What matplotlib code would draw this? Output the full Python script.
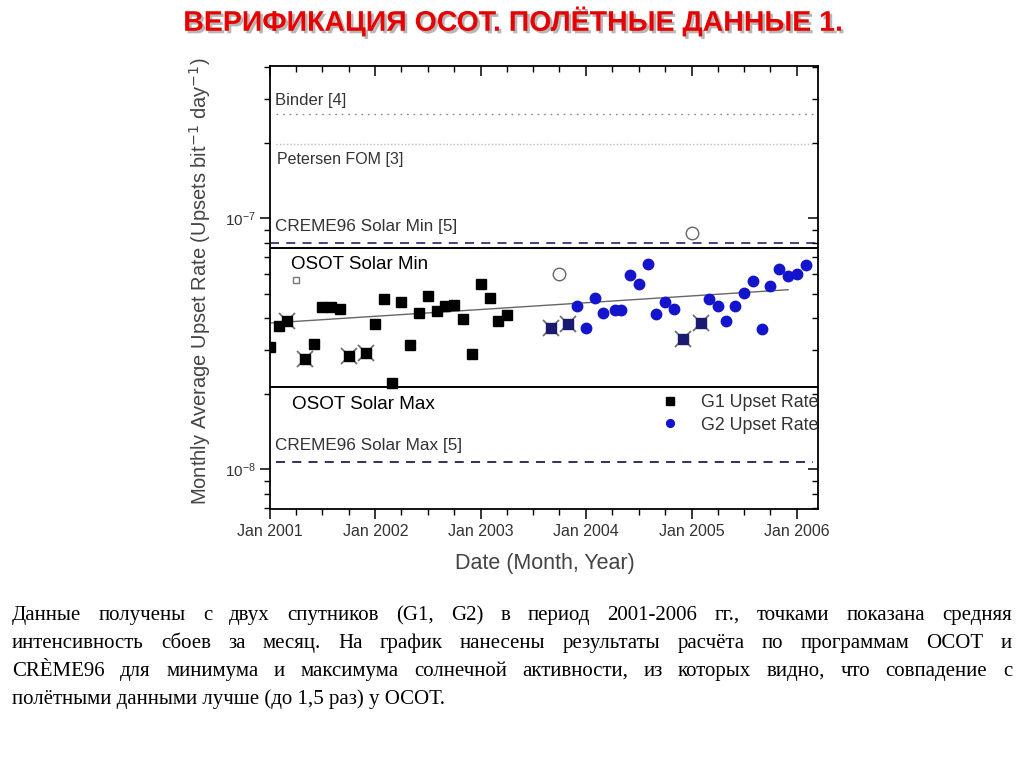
import numpy as np
import pandas as pd
import matplotlib
matplotlib.use("Agg")
import matplotlib.pyplot as plt
import matplotlib.dates as mdates
import matplotlib.ticker as mticker
import matplotlib.patheffects as pe

plt.rcParams['font.family'] = ['Liberation Sans', 'DejaVu Sans']

# --- data ---
# G1 monthly average upset rate (black squares)
g1_dates = ["2001-01-01", "2001-02-01", "2001-03-01", "2001-05-01", "2001-06-01",
            "2001-07-01", "2001-08-01", "2001-09-01", "2001-10-01", "2001-12-01",
            "2002-01-01", "2002-02-01", "2002-03-01", "2002-04-01", "2002-05-01",
            "2002-06-01", "2002-07-01", "2002-08-01", "2002-09-01", "2002-10-01",
            "2002-11-01", "2002-12-01", "2003-01-01", "2003-02-01", "2003-03-01",
            "2003-04-01"]
g1_rate = [3.07e-8, 3.72e-8, 3.90e-8, 2.76e-8, 3.17e-8, 4.43e-8, 4.43e-8, 4.37e-8,
           2.83e-8, 2.91e-8, 3.78e-8, 4.76e-8, 2.21e-8, 4.63e-8, 3.14e-8, 4.20e-8,
           4.90e-8, 4.27e-8, 4.47e-8, 4.54e-8, 3.98e-8, 2.89e-8, 5.47e-8, 4.80e-8,
           3.92e-8, 4.12e-8]
# G1 months marked with a cross
g1_flagged = ["2001-03-01", "2001-05-01", "2001-10-01", "2001-12-01"]

# G2 monthly average upset rate (blue circles)
g2_dates = ["2003-12-01", "2004-01-01", "2004-02-01", "2004-03-01", "2004-04-12",
            "2004-05-01", "2004-06-01", "2004-07-01", "2004-08-01", "2004-09-01",
            "2004-10-01", "2004-11-01", "2005-03-01", "2005-04-01", "2005-05-01",
            "2005-06-01", "2005-07-01", "2005-08-01", "2005-09-01", "2005-10-01",
            "2005-11-01", "2005-12-01", "2006-01-01", "2006-02-01"]
g2_rate = [4.47e-8, 3.66e-8, 4.81e-8, 4.21e-8, 4.33e-8, 4.33e-8, 5.97e-8, 5.49e-8,
           6.60e-8, 4.17e-8, 4.64e-8, 4.34e-8, 4.76e-8, 4.47e-8, 3.92e-8, 4.47e-8,
           5.04e-8, 5.61e-8, 3.61e-8, 5.36e-8, 6.30e-8, 5.89e-8, 6.02e-8, 6.54e-8]
# G2 months marked with a cross
g2x_dates = ["2003-09-01", "2003-11-01", "2004-12-01", "2005-02-01"]
g2x_rate = [3.67e-8, 3.78e-8, 3.32e-8, 3.84e-8]
# open markers
open_dates = ["2003-10-01", "2005-01-01"]
open_rate = [6.02e-8, 8.79e-8]
small_dates = ["2001-04-01"]
small_rate = [5.70e-8]

# linear trend (log scale) end points
trend_dates = ["2001-01-01", "2005-12-01"]
trend_rate = [3.83e-8, 5.20e-8]

# model predictions
binder = 2.60e-7
petersen = 1.98e-7
creme_min = 8.02e-8
osot_min = 7.66e-8
osot_max = 2.12e-8
creme_max = 1.067e-8

year_labels = ["Jan 2001", "Jan 2002", "Jan 2003", "Jan 2004", "Jan 2005", "Jan 2006"]

title = "ВЕРИФИКАЦИЯ ОСОТ. ПОЛЁТНЫЕ ДАННЫЕ 1."
body_lines = [
    "Данные получены с двух спутников (G1, G2) в период 2001-2006 гг., точками показана средняя",
    "интенсивность сбоев за месяц. На график нанесены результаты расчёта по программам ОСОТ и",
    "CRÈME96 для минимума и максимума солнечной активности, из которых видно, что совпадение с",
    "полётными данными лучше (до 1,5 раз) у ОСОТ.",
]

g1_t = pd.to_datetime(g1_dates)
g2_t = pd.to_datetime(g2_dates)

fig = plt.figure(figsize=(10.24, 7.68), dpi=100)
ax = fig.add_axes([0.2637, 0.3372, 0.5352, 0.5768])

# reference lines
ax.axhline(binder, xmin=0.01, xmax=0.99, color='#888888', lw=1, ls=(0, (1.2, 3.5)))
ax.axhline(petersen, xmin=0.01, xmax=0.99, color='#bbbbbb', lw=1, ls=(0, (1, 1.5)))
ax.axhline(creme_min, color='#34347e', lw=1.3, ls=(0, (5, 4)))
ax.axhline(osot_min, color='black', lw=1.4)
ax.axhline(osot_max, color='black', lw=1.4)
ax.axhline(creme_max, xmin=0.01, xmax=0.99, color='#22224a', lw=1.3, ls=(0, (5, 4)))

ax.plot(pd.to_datetime(trend_dates), trend_rate, color='#666666', lw=1)

# crosses behind flagged points
g1_fl = [r for d, r in zip(g1_dates, g1_rate) if d in g1_flagged]
ax.plot(pd.to_datetime(g1_flagged), g1_fl, ls='none', marker='x', ms=12, mew=1.3,
        color='#707070')
ax.plot(pd.to_datetime(g2x_dates), g2x_rate, ls='none', marker='x', ms=12, mew=1.3,
        color='#707070')

g1_line, = ax.plot(g1_t, g1_rate, ls='none', marker='s', ms=7, color='black',
                   label='G1 Upset Rate')
ax.plot(pd.to_datetime(g2x_dates), g2x_rate, ls='none', marker='s', ms=7,
        color='#1a1a70')
g2_line, = ax.plot(g2_t, g2_rate, ls='none', marker='o', ms=7.5, color='#1414cc',
                   label='G2 Upset Rate')
ax.plot(pd.to_datetime(open_dates), open_rate, ls='none', marker='o', ms=9,
        mfc='none', mec='#666666', mew=1)
ax.plot(pd.to_datetime(small_dates), small_rate, ls='none', marker='s', ms=4.5,
        mfc='none', mec='#777777', mew=1)

ax.set_yscale('log')
ax.set_ylim(6.95e-9, 4.05e-7)
xlim = (mdates.date2num(pd.Timestamp("2001-01-01")),
        mdates.date2num(pd.Timestamp("2006-03-15")))
ax.set_xlim(xlim)

ax.xaxis.set_major_locator(mdates.YearLocator())
ax.xaxis.set_minor_locator(mdates.MonthLocator(bymonth=[4, 7, 10]))
ax.xaxis.set_major_formatter(mticker.FixedFormatter(year_labels))
ax.yaxis.set_major_locator(mticker.LogLocator(base=10))
ax.yaxis.set_minor_locator(mticker.LogLocator(base=10, subs=np.arange(2, 10)))
ax.yaxis.set_minor_formatter(mticker.NullFormatter())

ax.tick_params(which='major', direction='out', length=7, width=1.1, colors='black',
               labelcolor='#333333')
ax.tick_params(which='minor', direction='out', length=4, width=1)
ax.tick_params(axis='x', labelsize=11.5, pad=4)
ax.tick_params(axis='y', labelsize=11, pad=3)
for s in ax.spines.values():
    s.set_linewidth(1.3)

# ticks on the right and top, pointing inside
axr = ax.twinx()
axr.set_yscale('log')
axr.set_ylim(ax.get_ylim())
axr.yaxis.set_minor_locator(mticker.LogLocator(base=10, subs=np.arange(2, 10)))
axr.tick_params(which='major', direction='in', length=7, width=1.1, labelright=False)
axr.tick_params(which='minor', direction='in', length=4, width=1, labelright=False)
axt = ax.twiny()
axt.xaxis_date()
axt.set_xlim(xlim)
axt.xaxis.set_major_locator(mdates.YearLocator())
axt.xaxis.set_minor_locator(mdates.MonthLocator(bymonth=[4, 7, 10]))
axt.tick_params(which='major', direction='in', length=7, width=1.1, labeltop=False)
axt.tick_params(which='minor', direction='in', length=4, width=1, labeltop=False)
for a in (axr, axt):
    for s in a.spines.values():
        s.set_visible(False)

# annotations inside the plot
txt = dict(transform=ax.transAxes, ha='left', va='center', color='#333333')
ax.text(0.009, 0.923, "Binder [4]", fontsize=12, **txt)
ax.text(0.013, 0.788, "Petersen FOM [3]", fontsize=11.5, **txt)
ax.text(0.009, 0.637, "CREME96 Solar Min [5]", fontsize=12.3, **txt)
ax.text(0.038, 0.553, "OSOT Solar Min", fontsize=13.5, color='black',
        transform=ax.transAxes, ha='left', va='center')
ax.text(0.040, 0.235, "OSOT Solar Max", fontsize=13.6, color='black',
        transform=ax.transAxes, ha='left', va='center')
ax.text(0.009, 0.144, "CREME96 Solar Max [5]", fontsize=12.3, **txt)

leg = ax.legend(handles=[g1_line, g2_line], loc='upper right',
                bbox_to_anchor=(1.0, 0.259), frameon=False, fontsize=12.8,
                markerscale=0.75, handletextpad=1.1, borderaxespad=0, borderpad=0,
                labelspacing=0.3, handlelength=1.2)
for t in leg.get_texts():
    t.set_color('#333333')

fig.text(200 / 1024, 1 - 281 / 768,
         "Monthly Average Upset Rate (Upsets bit$^{-1}$ day$^{-1}$)",
         rotation=90, ha='center', va='center', fontsize=14.5, color='#444444')
fig.text(545 / 1024, 1 - 563 / 768, "Date (Month, Year)", ha='center', va='center',
         fontsize=15.5, color='#444444')

# slide title
fig.text(513 / 1024, 1 - 22 / 768, title, ha='center', va='center', fontsize=20.5,
         fontweight='bold', color='#e60000',
         path_effects=[pe.withSimplePatchShadow(offset=(1.8, -1.8),
                                                shadow_rgbFace='#888888', alpha=0.6)])

# justified body text
renderer = fig.canvas.get_renderer()
x0, x1 = 12, 1012
for i, line in enumerate(body_lines):
    yb = 1 - (620 + 28 * i) / 768
    kw = dict(fontsize=15, family=['Liberation Serif', 'DejaVu Serif'],
              color='black', va='baseline', ha='left')
    if i == len(body_lines) - 1:
        fig.text(x0 / 1024, yb, line, **kw)
        continue
    words = line.split()
    texts = [fig.text(0, yb, w, **kw) for w in words]
    widths = [t.get_window_extent(renderer).width for t in texts]
    gap = (x1 - x0 - sum(widths)) / (len(words) - 1)
    x = x0
    for t, w in zip(texts, widths):
        t.set_x(x / 1024)
        x += w + gap

fig.savefig("out.png", dpi=100, facecolor='white')
